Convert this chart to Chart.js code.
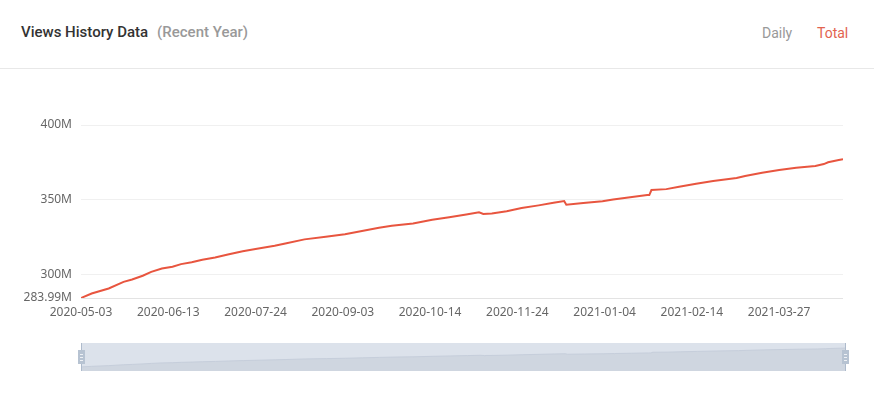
<!DOCTYPE html>
<html>
<head>
<meta charset="utf-8">
<title>Views History Data</title>
<script src="https://cdn.jsdelivr.net/npm/chart.js@4"></script>
<style>
  body { margin: 0; background: #fff; font-family: Roboto, "Noto Sans", sans-serif; }
  #page { position: relative; width: 874px; height: 402px; overflow: hidden; }
  #header { position: absolute; left: 0; top: 0; width: 874px; height: 68px; border-bottom: 1px solid #e8e8e8; }
  #title { position: absolute; left: 21px; top: 23px; font-size: 15px; font-weight: 500; color: #333; }
  #title span { color: #999; margin-left: 9px; }
  .tab { position: absolute; top: 25px; font-size: 14px; color: #999; }
  #tab-daily { left: 762px; }
  #tab-total { left: 817px; color: #e2634f; }
  #main-wrap { position: absolute; left: 0; top: 100px; width: 874px; height: 230px; }
  #zoom-wrap { position: absolute; left: 0; top: 340px; width: 874px; height: 34px; }
</style>
</head>
<body>
<div id="page">
  <div id="header">
    <div id="title">Views History Data<span>(Recent Year)</span></div>
    <div class="tab" id="tab-daily">Daily</div>
    <div class="tab" id="tab-total">Total</div>
  </div>
  <div id="main-wrap"><canvas id="views"></canvas></div>
  <div id="zoom-wrap"><canvas id="zoom"></canvas></div>
</div>
<script>
// Dates (first one is the start of the range)
const dates = [
  "2020-05-03", "2020-05-08", "2020-05-16", "2020-05-23", "2020-05-27", "2020-06-01",
  "2020-06-05", "2020-06-10", "2020-06-15", "2020-06-19", "2020-06-24", "2020-06-29",
  "2020-07-05", "2020-07-11", "2020-07-18", "2020-07-24", "2020-08-02", "2020-08-07",
  "2020-08-16", "2020-08-26", "2020-09-04", "2020-09-12", "2020-09-20", "2020-09-26",
  "2020-10-06", "2020-10-15", "2020-10-23", "2020-10-31", "2020-11-06", "2020-11-08",
  "2020-11-12", "2020-11-19", "2020-11-26", "2020-12-04", "2020-12-11", "2020-12-16",
  "2020-12-17", "2020-12-25", "2021-01-03", "2021-01-08", "2021-01-16", "2021-01-24",
  "2021-01-25", "2021-01-26", "2021-02-02", "2021-02-08", "2021-02-16", "2021-02-24",
  "2021-03-07", "2021-03-11", "2021-03-19", "2021-03-27", "2021-04-04", "2021-04-13",
  "2021-04-17", "2021-04-19", "2021-04-24", "2021-04-26",
];

// Total views in millions
const totalViews = [
  283.99, 287.0, 290.4, 294.8, 296.4, 298.9,
  301.5, 303.8, 304.9, 306.7, 307.9, 309.6,
  311.2, 313.2, 315.4, 316.8, 319.0, 320.6,
  323.3, 325.0, 326.8, 328.9, 331.1, 332.4,
  334.0, 336.4, 338.1, 340.0, 341.4, 340.3,
  340.7, 342.1, 344.3, 346.1, 347.9, 349.0,
  346.5, 347.7, 348.8, 350.1, 351.5, 353.0,
  353.0, 356.4, 357.0, 358.6, 360.6, 362.4,
  364.4, 365.8, 368.0, 369.8, 371.3, 372.5,
  373.8, 375.0, 376.5, 377.0,
];

// Y axis ticks (millions) and the step between date labels (days)
const yTicks = [283.99, 300, 350, 400];
const yMax = 400;
const dateLabelStep = 41;

const DAY = 86400000;
const startTime = Date.parse(dates[0]);
const dayOf = (d) => (Date.parse(d) - startTime) / DAY;
const dateOf = (n) => new Date(startTime + n * DAY).toISOString().slice(0, 10);

const points = dates.map((d, i) => ({ x: dayOf(d), y: totalViews[i] }));
const lastDay = dayOf(dates[dates.length - 1]);

const labelFont = { family: "'Noto Sans', sans-serif", size: 12 };

// Main line chart
new Chart(document.getElementById("views"), {
  type: "line",
  data: {
    datasets: [{
      data: points,
      borderColor: "#e8553f",
      borderWidth: 2,
      pointRadius: 0,
      tension: 0,
    }],
  },
  options: {
    responsive: true,
    maintainAspectRatio: false,
    animation: false,
    layout: { padding: { top: 25, right: 31, bottom: 0, left: 0 } },
    plugins: { legend: { display: false }, tooltip: { enabled: false } },
    scales: {
      x: {
        type: "linear",
        min: 0,
        max: lastDay,
        grid: { display: false },
        border: { display: false },
        ticks: {
          stepSize: dateLabelStep,
          includeBounds: false,
          maxRotation: 0,
          autoSkip: false,
          padding: -1,
          color: "#666",
          font: labelFont,
          callback: (v) => dateOf(v),
        },
        afterFit: (scale) => { scale.height = 32; },
      },
      y: {
        min: yTicks[0],
        max: yMax,
        border: { display: false },
        grid: {
          drawTicks: false,
          color: (ctx) => (ctx.index === 0 ? "#e3e3e3" : "#f0f0f0"),
        },
        afterBuildTicks: (scale) => { scale.ticks = yTicks.map((v) => ({ value: v })); },
        ticks: {
          padding: 9,
          color: "#666",
          font: labelFont,
          callback: (v) => (Number.isInteger(v) ? v : v.toFixed(2)) + "M",
        },
        afterFit: (scale) => { scale.width = 81; },
      },
    },
  },
});

// Slider box behind the data shadow, plus the two handles
const sliderPlugin = {
  id: "slider",
  beforeDatasetsDraw(chart) {
    const { ctx, chartArea: a } = chart;
    ctx.save();
    ctx.fillStyle = "#dce2eb";
    ctx.fillRect(a.left, a.top, a.right - a.left, a.bottom - a.top);
    ctx.restore();
  },
  afterDraw(chart) {
    const { ctx, chartArea: a } = chart;
    const mid = (a.top + a.bottom) / 2;
    ctx.save();
    [a.left, a.right].forEach((x) => {
      ctx.strokeStyle = "#aebbcc";
      ctx.lineWidth = 1;
      ctx.beginPath();
      ctx.moveTo(Math.round(x) + 0.5, a.top);
      ctx.lineTo(Math.round(x) + 0.5, a.bottom);
      ctx.stroke();
      ctx.fillStyle = "#b7c3d2";
      ctx.fillRect(Math.round(x) - 3, mid - 7, 7, 14);
      ctx.fillStyle = "#eef1f5";
      [-3, 0, 3].forEach((dy) => ctx.fillRect(Math.round(x) - 1, mid + dy, 3, 1));
    });
    ctx.restore();
  },
};

// Data zoom slider (whole range selected)
new Chart(document.getElementById("zoom"), {
  type: "line",
  plugins: [sliderPlugin],
  data: {
    datasets: [{
      data: points,
      borderColor: "#c6cedb",
      borderWidth: 1,
      backgroundColor: "#cfd6e0",
      fill: "start",
      pointRadius: 0,
      tension: 0,
    }],
  },
  options: {
    responsive: true,
    maintainAspectRatio: false,
    animation: false,
    layout: { padding: { top: 3, right: 29, bottom: 3, left: 81 } },
    plugins: { legend: { display: false }, tooltip: { enabled: false } },
    scales: {
      x: { type: "linear", display: false, min: 0, max: lastDay },
      y: { display: false, min: 264, max: 402 },
    },
  },
});
</script>
</body>
</html>
